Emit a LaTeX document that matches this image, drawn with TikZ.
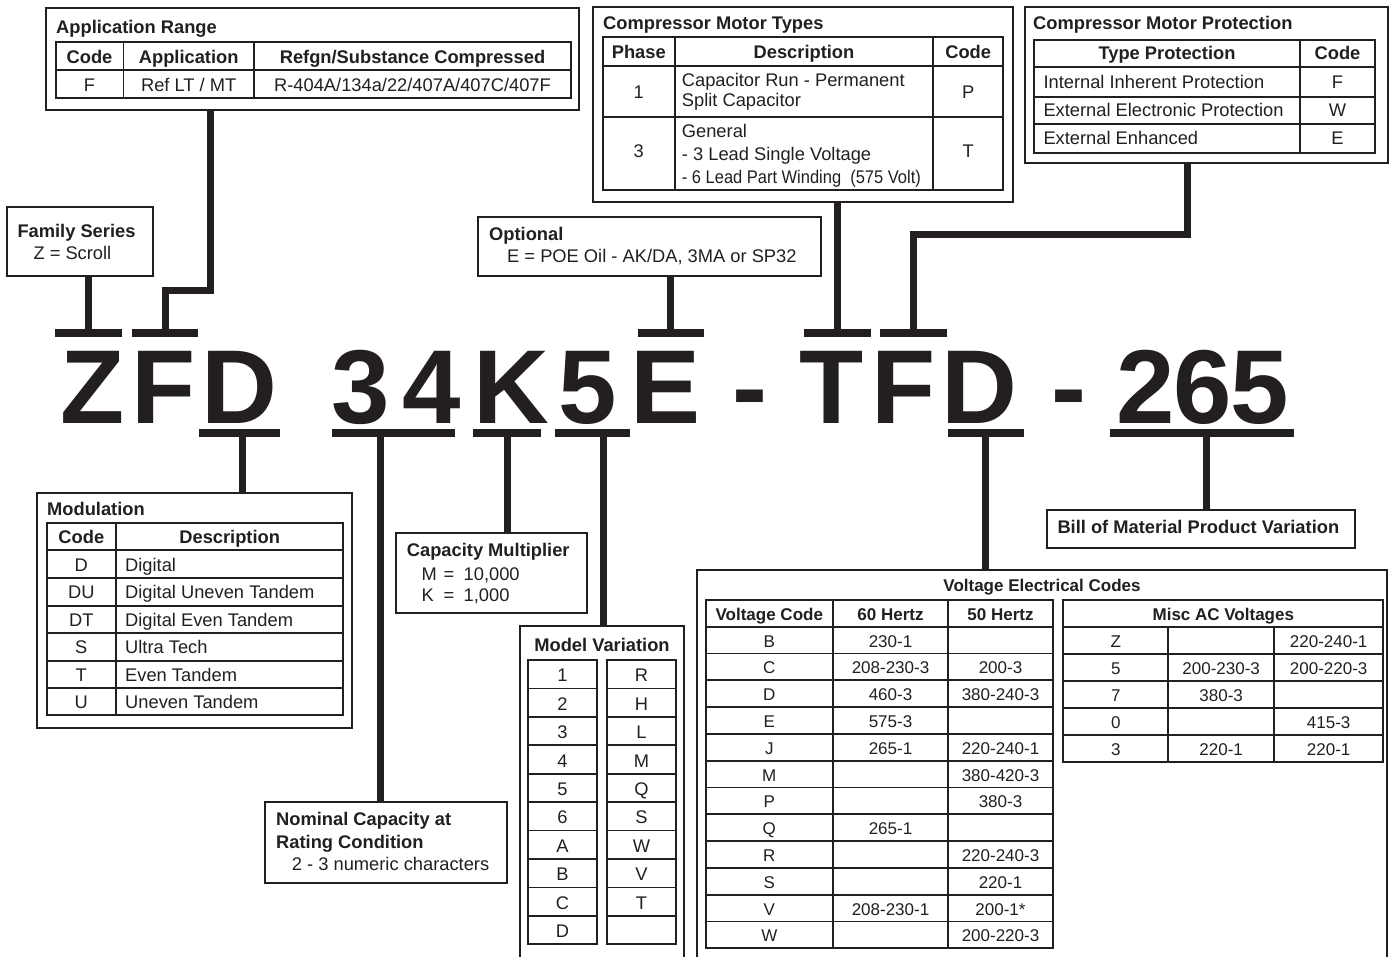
\documentclass[tikz,border=0pt]{standalone}
\usepackage{fontspec}
\setmainfont{Liberation Sans}
\definecolor{ink}{HTML}{231F20}
\begin{document}
\begin{tikzpicture}[x=1pt,y=-1pt,
  box/.style={draw=ink, line width=2pt, fill=white, inner sep=0pt, outer sep=0pt, anchor=north west},
  grid/.style={draw=ink, line width=1.8pt},
  conn/.style={draw=ink, line width=7pt, line join=miter},
  bar/.style={fill=ink, draw=none, inner sep=0pt, outer sep=0pt, minimum height=8pt},
  txt/.style={inner sep=0pt, text=ink, font=\fontsize{18.3}{22}\selectfont},
  btxt/.style={inner sep=0pt, text=ink, font=\fontsize{18.3}{22}\selectfont\bfseries},
  vtxt/.style={inner sep=0pt, text=ink, font=\fontsize{17}{20}\selectfont},
  bvtxt/.style={inner sep=0pt, text=ink, font=\fontsize{17}{20}\selectfont\bfseries},
  big/.style={inner sep=0pt, text=ink, font=\fontsize{105}{105}\selectfont\bfseries, anchor=base west},
]
\useasboundingbox (0,0) rectangle (1390,957);
\fill[white] (0,0) rectangle (1390,957);
\clip (0,0) rectangle (1390,957);

% ---------------- boxes ----------------
\node[box, minimum width=533pt, minimum height=102pt] (app) at (46,8) {};
\node[box, minimum width=420pt, minimum height=195pt] (mt) at (593,6.7) {};
\node[box, minimum width=363pt, minimum height=156pt] (mp) at (1025,7.3) {};
\node[box, minimum width=146.6pt, minimum height=69pt] (fam) at (6.7,206.7) {};
\node[box, minimum width=342.4pt, minimum height=59pt] (opt) at (478.3,216.7) {};
\node[box, minimum width=314.4pt, minimum height=235.3pt] (mod) at (37.3,492.7) {};
\node[box, minimum width=190.7pt, minimum height=79.4pt] (cap) at (396,533.3) {};
\node[box, minimum width=164pt, minimum height=349pt] (mv) at (520,626) {};
\node[box, minimum width=241.7pt, minimum height=81pt] (nom) at (265,801.7) {};
\node[box, minimum width=308.3pt, minimum height=37.7pt] (bom) at (1046.7,510) {};
\node[box, minimum width=690pt, minimum height=405pt] (volt) at (696.7,570) {};

% ---------------- big model code ----------------
\node[big] (L1) at (60.5,424) {Z};
\node[big] (L2) at (131.1,424) {F};
\node[big] (L3) at (201.3,424) {D};
\node[big] (L4) at (331.3,424) {3};
\node[big] (L5) at (402.6,424) {4};
\node[big] (L6) at (473.3,424) {K};
\node[big] (L7) at (558,424) {5};
\node[big] (L8) at (629.8,424) {E};
\node[big] (L9) at (732.3,424) {-};
\node[big] (L10) at (799.5,424) {T};
\node[big] (L11) at (871.3,424) {F};
\node[big] (L12) at (941.3,424) {D};
\node[big] (L13) at (1051.3,424) {-};
\node[big] (L14) at (1116.7,424) {2};
\node[big] (L15) at (1173.4,424) {6};
\node[big] (L16) at (1230.1,424) {5};

% ---------------- bars ----------------
\node[bar, minimum width=66.7pt] (bZ) at (88.35,333.5) {};
\node[bar, minimum width=66.6pt] (bF) at (165,333.5) {};
\node[bar, minimum width=66.5pt] (bE) at (670.75,333.5) {};
\node[bar, minimum width=67pt] (bT) at (837.5,333.5) {};
\node[bar, minimum width=67pt] (bF2) at (913.5,333.5) {};
\node[bar, minimum width=81.3pt] (bD) at (239.35,433) {};
\node[bar, minimum width=122.8pt] (b34) at (393.1,433) {};
\node[bar, minimum width=68pt] (bK) at (507,433) {};
\node[bar, minimum width=75pt] (b5) at (592,433) {};
\node[bar, minimum width=75.9pt] (bD2) at (985.55,433) {};
\node[bar, minimum width=184.4pt] (b265) at (1201.8,433) {};

% ---------------- connectors ----------------
\coordinate (sZ) at (88,333.5);
\coordinate (aF) at (210,291);
\coordinate (sF) at (165,333.5);
\coordinate (sE) at (670,333.5);
\coordinate (sT) at (837,333.5);
\coordinate (pC) at (1187,234.5);
\coordinate (sF2) at (913,333.5);
\coordinate (sD) at (242,433);
\coordinate (s34) at (380,433);
\coordinate (sK) at (507,433);
\coordinate (s5) at (603,433);
\coordinate (sD2) at (985,433);
\coordinate (s265) at (1206,433);

\draw[conn] (fam.south -| sZ) -- (sZ);
\draw[conn] (app.south -| aF) -- (aF) -- (aF -| sF) -- (sF);
\draw[conn] (opt.south -| sE) -- (sE);
\draw[conn] (mt.south -| sT) -- (sT);
\draw[conn] (mp.south -| pC) -- (pC) -- (pC -| sF2) -- (sF2);
\draw[conn] (sD) -- (sD |- mod.north);
\draw[conn] (s34) -- (s34 |- nom.north);
\draw[conn] (sK) -- (sK |- cap.north);
\draw[conn] (s5) -- (s5 |- mv.north);
\draw[conn] (sD2) -- (sD2 |- volt.north);
\draw[conn] (s265) -- (s265 |- bom.north);

% ---------------- Application Range ----------------
\node[btxt, anchor=base west] (appT) at (56,34) {Application Range};
\draw[grid] (55.7,41.7) rectangle (571,98.3);
\draw[grid] (55.7,70) -- (571,70);
\draw[grid] (123.4,41.7) -- (123.4,98.3);
\draw[grid] (254,41.7) -- (254,98.3);
\node[btxt, anchor=base] (appH1) at (89.5,63.3) {Code};
\node[btxt, anchor=base] (appH2) at (188.7,63.3) {Application};
\node[btxt, anchor=base] (appH3) at (412.5,63.3) {Refgn/Substance Compressed};
\node[txt, anchor=base] (appD1) at (89.5,91.6) {F};
\node[txt, anchor=base] (appD2) at (188.7,91.6) {Ref LT / MT};
\node[txt, anchor=base] (appD3) at (412.5,91.6) {R-404A/134a/22/407A/407C/407F};

% ---------------- Compressor Motor Types ----------------
\node[btxt, anchor=base west] (mtT) at (603,29.5) {Compressor Motor Types};
\draw[grid] (602.7,37.3) rectangle (1003,190);
\draw[grid] (602.7,65.7) -- (1003,65.7);
\draw[grid] (602.7,116.7) -- (1003,116.7);
\draw[grid] (675,37.3) -- (675,190);
\draw[grid] (933.3,37.3) -- (933.3,190);
\node[btxt, anchor=base] (mtH1) at (638.8,59) {Phase};
\node[btxt, anchor=base] (mtH2) at (804,59) {Description};
\node[btxt, anchor=base] (mtH3) at (968.2,59) {Code};
\node[txt, anchor=base] (mtP1) at (638.8,98.5) {1};
\node[txt, anchor=base] (mtC1) at (968.2,98.5) {P};
\node[txt, anchor=base west] (mtD1a) at (681.7,87) {Capacitor Run - Permanent};
\node[txt, anchor=base west] (mtD1b) at (681.7,107) {Split Capacitor};
\node[txt, anchor=base] (mtP2) at (638.8,157.5) {3};
\node[txt, anchor=base] (mtC2) at (968.2,157.5) {T};
\node[txt, anchor=base west] (mtD2a) at (681.7,137.5) {General};
\node[txt, anchor=base west] (mtD2b) at (681.7,160.5) {- 3 Lead Single Voltage};
\node[txt, anchor=base west] (mtD2c) at (681.7,183.5) {\scalebox{0.9}[1]{- 6 Lead Part Winding\ \ (575 Volt)}};

% ---------------- Compressor Motor Protection ----------------
\node[btxt, anchor=base west] (mpT) at (1033,30) {Compressor Motor Protection};
\draw[grid] (1034,40) rectangle (1375,152.7);
\draw[grid] (1034,66.7) -- (1375,66.7);
\draw[grid] (1034,96.7) -- (1375,96.7);
\draw[grid] (1034,124) -- (1375,124);
\draw[grid] (1300,40) -- (1300,152.7);
\node[btxt, anchor=base] (mpH1) at (1167,60) {Type Protection};
\node[btxt, anchor=base] (mpH2) at (1337.5,60) {Code};
\node[txt, anchor=base west] (mpD1) at (1043.3,88.3) {Internal Inherent Protection};
\node[txt, anchor=base west] (mpD2) at (1043.3,116.7) {External Electronic Protection};
\node[txt, anchor=base west] (mpD3) at (1043.3,145) {External Enhanced};
\node[txt, anchor=base] (mpC1) at (1337.5,88.3) {F};
\node[txt, anchor=base] (mpC2) at (1337.5,116.7) {W};
\node[txt, anchor=base] (mpC3) at (1337.5,145) {E};

% ---------------- Family / Optional ----------------
\node[btxt, anchor=base west] (famT) at (17.3,237.7) {Family Series};
\node[txt, anchor=base west] (famD) at (33.3,260) {Z = Scroll};
\node[btxt, anchor=base west] (optT) at (489,240.5) {Optional};
\node[txt, anchor=base west] (optD) at (507,262.5) {E = POE Oil - AK/DA, 3MA or SP32};

% ---------------- Modulation ----------------
\node[btxt, anchor=base west] (modT) at (47,515) {Modulation};
\draw[grid] (46.7,522.7) rectangle (343.3,715);
\foreach \yy in {550,577.7,605.7,633.3,660.7,688.3} \draw[grid] (46.7,\yy) -- (343.3,\yy);
\draw[grid] (116,522.7) -- (116,715);
\node[btxt, anchor=base] (modH1) at (81.3,543.8) {Code};
\node[btxt, anchor=base] (modH2) at (229.7,543.8) {Description};
\foreach \c/\d [count=\i] in {D/Digital, DU/Digital Uneven Tandem, DT/Digital Even Tandem, S/Ultra Tech, T/Even Tandem, U/Uneven Tandem} {
  \node[txt, anchor=base] (modC\i) at (81.3,{550+27.5*\i-6.25}) {\c};
  \node[txt, anchor=base west] (modD\i) at (125,{550+27.5*\i-6.25}) {\d};
}

% ---------------- Capacity Multiplier ----------------
\node[btxt, anchor=base west] (capT) at (406.7,556) {Capacity Multiplier};
\node[txt, anchor=base west] (capM) at (421.5,580) {\makebox[22pt][l]{M}\makebox[20pt][l]{=}10,000};
\node[txt, anchor=base west] (capK) at (421.5,601.7) {\makebox[22pt][l]{K}\makebox[20pt][l]{=}1,000};

% ---------------- Model Variation ----------------
\node[btxt, anchor=base] (mvT) at (602,651.7) {Model Variation};
\draw[grid] (528.3,660) rectangle (596.7,944.3);
\draw[grid] (607.3,660) rectangle (675.7,944.3);
\foreach \k in {1,...,9} {
  \draw[grid] (528.3,{660+28.43*\k}) -- (596.7,{660+28.43*\k});
  \draw[grid] (607.3,{660+28.43*\k}) -- (675.7,{660+28.43*\k});
}
\foreach \a/\b [count=\i] in {1/R,2/H,3/L,4/M,5/Q,6/S,A/W,B/V,C/T,D/{}} {
  \node[txt, anchor=base] (mvA\i) at (562.5,{660+28.43*\i-6.7}) {\a};
  \node[txt, anchor=base] (mvB\i) at (641.5,{660+28.43*\i-6.7}) {\b};
}

% ---------------- Nominal Capacity ----------------
\node[btxt, anchor=base west] (nomT1) at (276,825) {Nominal Capacity at};
\node[btxt, anchor=base west] (nomT2) at (276,848.3) {Rating Condition};
\node[txt, anchor=base west] (nomD) at (291.7,870) {2 - 3 numeric characters};

% ---------------- Bill of Material ----------------
\node[btxt, anchor=base west] (bomT) at (1057.3,533.3) {Bill of Material Product Variation};

% ---------------- Voltage Electrical Codes ----------------
\node[bvtxt, anchor=base] (voltT) at (1042,591.7) {Voltage Electrical Codes};
\draw[grid] (706,600) rectangle (1052.7,948.3);
\foreach \k in {0,...,11} \draw[grid] (706,{626.7+26.8*\k}) -- (1052.7,{626.7+26.8*\k});
\draw[grid] (832.7,600) -- (832.7,948.3);
\draw[grid] (948.3,600) -- (948.3,948.3);
\node[bvtxt, anchor=base] (vH1) at (769.3,620) {Voltage Code};
\node[bvtxt, anchor=base] (vH2) at (890.5,620) {60 Hertz};
\node[bvtxt, anchor=base] (vH3) at (1000.5,620) {50 Hertz};
\foreach \a/\b/\c [count=\i] in {B/230-1/{}, C/208-230-3/200-3, D/460-3/380-240-3, E/575-3/{}, J/265-1/220-240-1, M/{}/380-420-3, P/{}/380-3, Q/265-1/{}, R/{}/220-240-3, S/{}/220-1, V/208-230-1/200-1*, W/{}/200-220-3} {
  \node[vtxt, anchor=base] (vA\i) at (769.3,{626.7+26.8*\i-6.4}) {\a};
  \node[vtxt, anchor=base] (vB\i) at (890.5,{626.7+26.8*\i-6.4}) {\b};
  \node[vtxt, anchor=base] (vC\i) at (1000.5,{626.7+26.8*\i-6.4}) {\c};
}
\draw[grid] (1063.3,600) rectangle (1383.3,761.7);
\foreach \k in {0,...,4} \draw[grid] (1063.3,{626.7+27*\k}) -- (1383.3,{626.7+27*\k});
\draw[grid] (1168.3,626.7) -- (1168.3,761.7);
\draw[grid] (1274,626.7) -- (1274,761.7);
\node[bvtxt, anchor=base] (mH) at (1223.3,620) {Misc AC Voltages};
\foreach \a/\b/\c [count=\i] in {Z/{}/220-240-1, 5/200-230-3/200-220-3, 7/380-3/{}, 0/{}/415-3, 3/220-1/220-1} {
  \node[vtxt, anchor=base] (mA\i) at (1115.8,{626.7+27*\i-6.5}) {\a};
  \node[vtxt, anchor=base] (mB\i) at (1221.2,{626.7+27*\i-6.5}) {\b};
  \node[vtxt, anchor=base] (mC\i) at (1328.7,{626.7+27*\i-6.5}) {\c};
}
\end{tikzpicture}
\end{document}
